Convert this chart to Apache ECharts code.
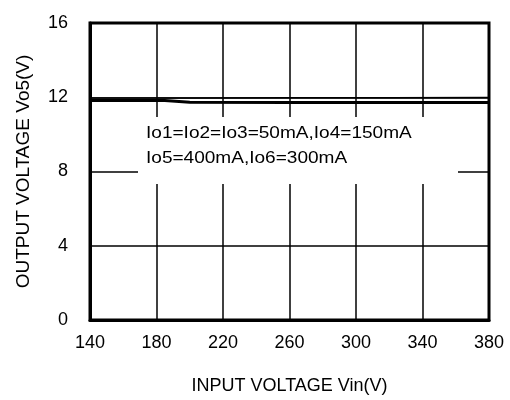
<!DOCTYPE html>
<html>
<head>
<meta charset="utf-8">
<script src="https://cdn.jsdelivr.net/npm/echarts@6/dist/echarts.min.js"></script>
<style>
  html, body { margin: 0; padding: 0; background: #fff; }
  #chart { width: 510px; height: 400px; }
</style>
</head>
<body>
<div id="chart"></div>
<script>
// data
const xTicks = [140, 180, 220, 260, 300, 340, 380]
const yTicks = [0, 4, 8, 12, 16]
const vinUpper = [140, 200, 260, 320, 380]
const voUpper = [11.96, 11.96, 11.97, 11.97, 11.98]
const vinLower = [140, 185, 200, 260, 320, 380]
const voLower = [11.82, 11.82, 11.73, 11.72, 11.72, 11.72]
const noteLines = ['Io1=Io2=Io3=50mA,Io4=150mA', 'Io5=400mA,Io6=300mA']

const font = 'Liberation Sans, Arial, sans-serif'

const chart = echarts.init(document.getElementById('chart'))
chart.setOption({
  animation: false,
  backgroundColor: '#fff',
  grid: {
    left: 90, right: 21, top: 23, bottom: 78,
    show: true, borderColor: '#000', borderWidth: 3
  },
  xAxis: {
    type: 'value',
    min: 140, max: 380,
    name: 'INPUT VOLTAGE Vin(V)',
    nameLocation: 'middle',
    nameGap: 57,
    nameTextStyle: { color: '#000', fontSize: 18, fontFamily: font },
    axisLine: { show: true, lineStyle: { color: '#000', width: 3 } },
    axisTick: { show: false, customValues: xTicks },
    axisLabel: { customValues: xTicks, color: '#000', fontSize: 18, fontFamily: font, margin: 14 },
    splitLine: { show: true, lineStyle: { color: '#000', width: 1.5 } }
  },
  yAxis: {
    type: 'value',
    min: 0, max: 16, interval: 4,
    name: 'OUTPUT VOLTAGE Vo5(V)',
    nameLocation: 'middle',
    nameGap: 57,
    nameTextStyle: { color: '#000', fontSize: 19, fontFamily: font },
    axisLine: { show: true, lineStyle: { color: '#000', width: 3 } },
    axisTick: { show: false },
    axisLabel: { color: '#000', fontSize: 18, fontFamily: font, margin: 22 },
    splitLine: { show: true, lineStyle: { color: '#000', width: 1.5 } }
  },
  series: [
    {
      type: 'line',
      data: vinUpper.map((v, i) => [v, voUpper[i]]),
      showSymbol: false,
      lineStyle: { color: '#000', width: 1.5 }
    },
    {
      type: 'line',
      data: vinLower.map((v, i) => [v, voLower[i]]),
      showSymbol: false,
      lineStyle: { color: '#000', width: 3 }
    }
  ],
  graphic: [
    { type: 'rect', z: 10, shape: { x: 138, y: 117, width: 320, height: 67 }, style: { fill: '#fff' } },
    {
      type: 'text', z: 11, x: 146, y: 134, scaleX: 1.19,
      style: { text: noteLines[0], fill: '#000', fontSize: 16, fontFamily: font, verticalAlign: 'middle' }
    },
    {
      type: 'text', z: 11, x: 146, y: 159, scaleX: 1.19,
      style: { text: noteLines[1], fill: '#000', fontSize: 16, fontFamily: font, verticalAlign: 'middle' }
    }
  ]
})
</script>
</body>
</html>
